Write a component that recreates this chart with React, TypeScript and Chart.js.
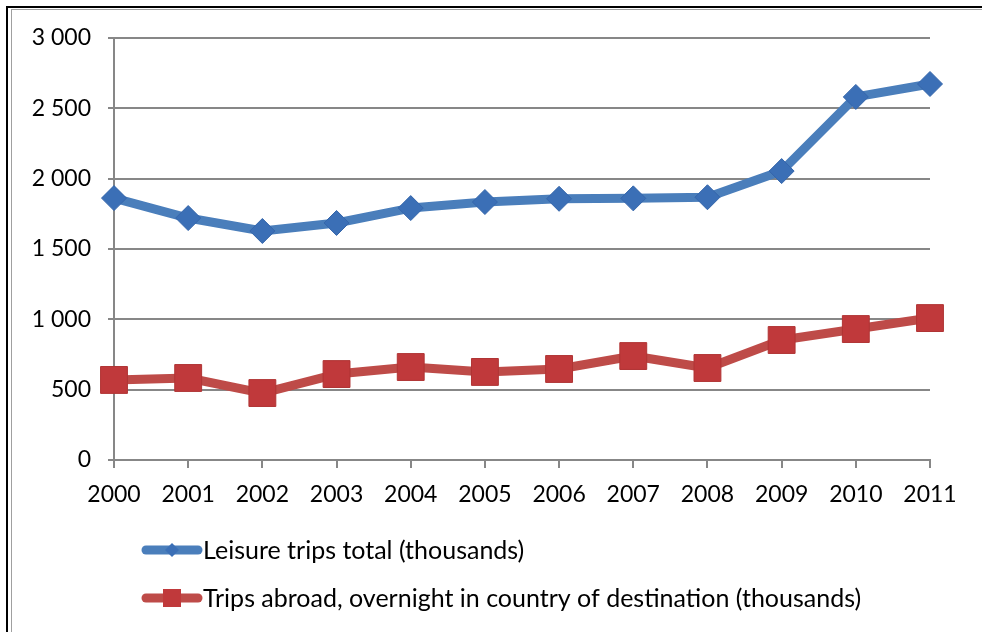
import React, { useEffect, useRef } from "react";
import { Chart, registerables } from "chart.js";

Chart.register(...registerables);

const years = ["2000", "2001", "2002", "2003", "2004", "2005", "2006", "2007", "2008", "2009", "2010", "2011"];
const leisureTotal = [1862, 1720, 1628, 1685, 1791, 1834, 1857, 1860, 1868, 2054, 2581, 2673];
const tripsAbroad = [569, 583, 476, 611, 661, 626, 647, 739, 654, 853, 931, 1009];
const seriesLabels = [
  "Leisure trips total (thousands)",
  "Trips abroad, overnight in country of destination (thousands)",
];
const yMin = 0;
const yMax = 3000;
const yStep = 500;

const FONT = "Lato, 'Open Sans', sans-serif";
const BLUE_LINE = "#4a7ebb";
const BLUE_MARK = "#3b6fb6";
const RED_LINE = "#be4b48";
const RED_MARK = "#c0393b";

const fmt = (v: number) =>
  v >= 1000 ? Math.floor(v / 1000) + " " + String(v % 1000).padStart(3, "0") : String(v);

const framePlugin = {
  id: "frame",
  beforeDraw(chart: any) {
    const c = chart.ctx;
    c.save();
    c.fillStyle = "#ffffff";
    c.fillRect(0, 0, chart.width, chart.height);
    c.fillStyle = "#000000";
    c.fillRect(6, 6, 2, chart.height);
    c.fillRect(6, 6, chart.width, 2);
    c.fillStyle = "#a0a0a0";
    c.fillRect(11, 9, 1, chart.height);
    c.fillRect(11, 9, chart.width, 1);
    c.restore();
  },
};

const legendPlugin = {
  id: "customLegend",
  afterDraw(chart: any) {
    const c = chart.ctx;
    const ys = [550, 598];
    chart.data.datasets.forEach((ds: any, i: number) => {
      const y = ys[i];
      const x0 = 146;
      const x1 = 198;
      c.save();
      c.strokeStyle = ds.borderColor;
      c.lineWidth = 9;
      c.lineCap = "round";
      c.beginPath();
      c.moveTo(x0, y);
      c.lineTo(x1, y);
      c.stroke();
      const cx = (x0 + x1) / 2;
      c.fillStyle = ds.pointBackgroundColor;
      c.beginPath();
      if (ds.pointStyle === "rectRot") {
        const r = 7;
        c.moveTo(cx - r, y);
        c.lineTo(cx, y - r);
        c.lineTo(cx + r, y);
        c.lineTo(cx, y + r);
        c.closePath();
      } else {
        c.rect(cx - 9, y - 9, 18, 18);
      }
      c.fill();
      c.fillStyle = "#000000";
      c.font = `25px ${FONT}`;
      c.textBaseline = "middle";
      c.textAlign = "left";
      c.fillText(ds.label, 203, y + 1);
      c.restore();
    });
  },
};

export default function App() {
  const ref = useRef<HTMLCanvasElement | null>(null);

  useEffect(() => {
    if (!ref.current) return;
    const chart = new Chart(ref.current, {
      type: "line",
      data: {
        labels: years,
        datasets: [
          {
            label: seriesLabels[0],
            data: leisureTotal,
            borderColor: BLUE_LINE,
            backgroundColor: BLUE_MARK,
            borderWidth: 9,
            borderJoinStyle: "round",
            borderCapStyle: "round",
            pointStyle: "rectRot",
            pointRadius: 12.5,
            pointBackgroundColor: BLUE_MARK,
            pointBorderColor: "#3566ab",
            pointBorderWidth: 1,
            tension: 0,
            fill: false,
          },
          {
            label: seriesLabels[1],
            data: tripsAbroad,
            borderColor: RED_LINE,
            backgroundColor: RED_MARK,
            borderWidth: 9,
            borderJoinStyle: "round",
            borderCapStyle: "round",
            pointStyle: "rect",
            pointRadius: 19,
            pointBackgroundColor: RED_MARK,
            pointBorderColor: "#b03434",
            pointBorderWidth: 1,
            tension: 0,
            fill: false,
          },
        ],
      },
      options: {
        responsive: false,
        animation: false,
        devicePixelRatio: 1,
        layout: { padding: { left: 0, right: 52, top: 38, bottom: 122 } },
        plugins: {
          legend: { display: false },
          tooltip: { enabled: false },
        },
        scales: {
          x: {
            offset: false,
            grid: {
              drawOnChartArea: false,
              drawTicks: true,
              tickLength: 8,
              color: "#878787",
              lineWidth: 2,
            },
            border: { display: true, color: "#878787", width: 2 },
            ticks: {
              color: "#000000",
              font: { family: FONT, size: 23 },
              padding: 13,
              maxRotation: 0,
              autoSkip: false,
            },
            afterFit(scale: any) {
              scale.height = 50;
            },
          },
          y: {
            min: yMin,
            max: yMax,
            grid: {
              drawTicks: true,
              tickLength: 6,
              color: "#878787",
              lineWidth: 2,
            },
            border: { display: true, color: "#878787", width: 2 },
            ticks: {
              stepSize: yStep,
              color: "#000000",
              font: { family: FONT, size: 23 },
              padding: 17,
              callback: (v: any) => fmt(Number(v)),
            },
            afterFit(scale: any) {
              scale.width = 114;
            },
          },
        },
      },
      plugins: [framePlugin, legendPlugin],
    });
    return () => chart.destroy();
  }, []);

  return (
    <div style={{ position: "absolute", left: 0, top: 0, width: 982, height: 632 }}>
      <canvas ref={ref} width={982} height={632} style={{ display: "block", width: 982, height: 632 }} />
    </div>
  );
}
